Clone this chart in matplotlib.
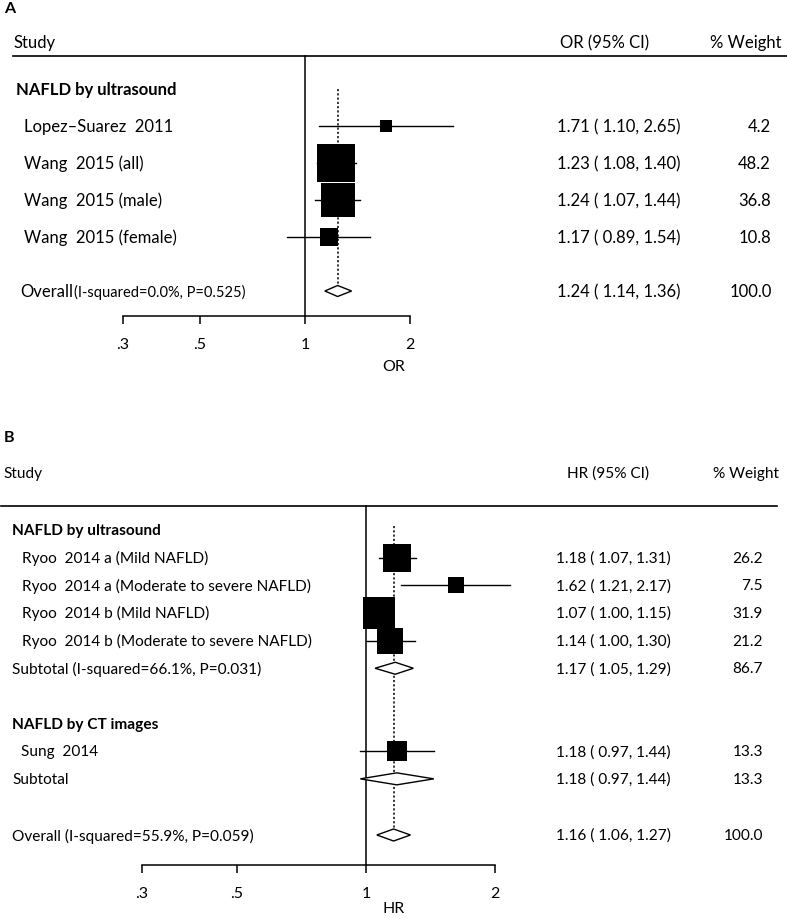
import numpy as np
import matplotlib.pyplot as plt
import matplotlib.transforms as mtransforms
from matplotlib.patches import Polygon

plt.rcParams['font.family'] = ['Lato', 'DejaVu Sans']

# Panel A: NAFLD by ultrasound, OR
a_labels = ["Lopez\u2013Suarez  2011", "Wang  2015 (all)", "Wang  2015 (male)", "Wang  2015 (female)"]
a_est = [1.71, 1.23, 1.24, 1.17]
a_lo = [1.10, 1.08, 1.07, 0.89]
a_hi = [2.65, 1.40, 1.44, 1.54]
a_wt = [4.2, 48.2, 36.8, 10.8]
a_overall = [1.24, 1.14, 1.36]
a_overall_wt = 100.0
a_overall_het = "(I-squared=0.0%, P=0.525)"

# Panel B: HR
b_us_labels = ["Ryoo  2014 a (Mild NAFLD)", "Ryoo  2014 a (Moderate to severe NAFLD)",
               "Ryoo  2014 b (Mild NAFLD)", "Ryoo  2014 b (Moderate to severe NAFLD)"]
b_us_est = [1.18, 1.62, 1.07, 1.14]
b_us_lo = [1.07, 1.21, 1.00, 1.00]
b_us_hi = [1.31, 2.17, 1.15, 1.30]
b_us_wt = [26.2, 7.5, 31.9, 21.2]
b_us_sub = [1.17, 1.05, 1.29]
b_us_sub_wt = 86.7
b_us_het = "(I-squared=66.1%, P=0.031)"

b_ct_labels = ["Sung  2014"]
b_ct_est = [1.18]
b_ct_lo = [0.97]
b_ct_hi = [1.44]
b_ct_wt = [13.3]
b_ct_sub = [1.18, 0.97, 1.44]
b_ct_sub_wt = 13.3

b_overall = [1.16, 1.06, 1.27]
b_overall_wt = 100.0
b_overall_het = "(I-squared=55.9%, P=0.059)"

ticks = [0.3, 0.5, 1, 2]
tick_labels = [".3", ".5", "1", "2"]

W, H = 787, 920
fig = plt.figure(figsize=(W / 100, H / 100), dpi=100)


def make_axes(top_px, axis_px, one_px, px_per_ln, row0_px, row_px):
    ax = fig.add_axes([0, 1 - axis_px / H, 1, (axis_px - top_px) / H])
    ax.set_xscale('log')
    ax.set_xlim(np.exp(-one_px / px_per_ln), np.exp((W - one_px) / px_per_ln))
    ax.set_ylim((axis_px - row0_px) / row_px, (top_px - row0_px) / row_px)
    for s in ['top', 'left', 'right']:
        ax.spines[s].set_visible(False)
    ax.spines['bottom'].set_bounds(ticks[0], ticks[-1])
    ax.spines['bottom'].set_linewidth(1.1)
    ax.set_yticks([])
    ax.set_xticks(ticks)
    ax.set_xticklabels(tick_labels)
    ax.xaxis.set_minor_locator(plt.NullLocator())
    ax.tick_params(axis='x', direction='out', length=6, width=1.1, pad=9, labelsize=11.5)
    ax.patch.set_alpha(0)
    return ax


def row(px, row0_px, row_px):
    return (px - row0_px) / row_px


def square(ax, y, est, lo, hi, wt):
    ax.plot([lo, hi], [y, y], color='black', lw=1.0, clip_on=False, zorder=2)
    ax.scatter([est], [y], marker='s', s=16.3 * wt, color='black', linewidths=0, zorder=3, clip_on=False)


def diamond(ax, y, est, lo, hi, h):
    ax.add_patch(Polygon([[lo, y], [est, y - h], [hi, y], [est, y + h]], closed=True,
                         facecolor='white', edgecolor='black', lw=1.0, zorder=4, clip_on=False))


def ci_text(est, lo, hi):
    return f"{est:.2f} ({lo:5.2f}, {hi:.2f})"


# ---------------- Panel A ----------------
r0, rs = 90, 37.0
ax = make_axes(0, 317, 305, 151.5, r0, rs)
tr = mtransforms.blended_transform_factory(fig.transFigure, ax.transData)
fs = 12

ax.text(4 / W, row(9, r0, rs), "A", transform=tr, fontsize=11.5, fontweight='bold', va='center')
ax.text(14 / W, row(43, r0, rs), "Study", transform=tr, fontsize=fs, va='center')
ax.text(605 / W, row(43, r0, rs), "OR (95% CI)", transform=tr, fontsize=fs, va='center', ha='center')
ax.text(781 / W, row(43, r0, rs), "% Weight", transform=tr, fontsize=fs, va='center', ha='right')
hl = row(57, r0, rs)
ax.plot([13 / W, 1], [hl, hl], transform=tr, color='black', lw=1.2, clip_on=False)
ax.plot([1, 1], [hl, ax.get_ylim()[0]], color='black', lw=1.1, clip_on=False)

ax.text(16 / W, 0, "NAFLD by ultrasound", transform=tr, fontsize=fs, fontweight='bold', va='center')
for i in range(len(a_labels)):
    y = i + 1
    ax.text(24 / W, y, a_labels[i], transform=tr, fontsize=fs, va='center')
    square(ax, y, a_est[i], a_lo[i], a_hi[i], a_wt[i])
    ax.text(557 / W, y, ci_text(a_est[i], a_lo[i], a_hi[i]), transform=tr, fontsize=fs, va='center')
    ax.text(771 / W, y, f"{a_wt[i]:.1f}", transform=tr, fontsize=fs, va='center', ha='right')

yo = row(292, r0, rs)
t = ax.text(20 / W, yo, "Overall", transform=tr, fontsize=fs, va='center')
ax.annotate(a_overall_het, xy=(1, 0.5), xycoords=t, xytext=(1, 0), textcoords='offset points',
            fontsize=10.5, va='center', ha='left')
diamond(ax, yo, a_overall[0], a_overall[1], a_overall[2], 5.5 / rs)
ax.plot([a_overall[0], a_overall[0]], [0, yo], color='black', lw=1.1, ls=(0, (1.4, 1.4)), zorder=1)
ax.text(557 / W, yo, ci_text(*a_overall), transform=tr, fontsize=fs, va='center')
ax.text(772 / W, yo, f"{a_overall_wt:.1f}", transform=tr, fontsize=fs, va='center', ha='right')
ax.set_xlabel("OR", fontsize=11.5, labelpad=6)

# ---------------- Panel B ----------------
r0, rs = 531, 27.65
ax = make_axes(420, 866, 366, 186.0, r0, rs)
tr = mtransforms.blended_transform_factory(fig.transFigure, ax.transData)
fs = 11.1

ax.text(4 / W, row(438, r0, rs), "B", transform=tr, fontsize=11.5, fontweight='bold', va='center')
ax.text(3 / W, row(474, r0, rs), "Study", transform=tr, fontsize=fs, va='center')
ax.text(608 / W, row(474, r0, rs), "HR (95% CI)", transform=tr, fontsize=fs, va='center', ha='center')
ax.text(779 / W, row(474, r0, rs), "% Weight", transform=tr, fontsize=fs, va='center', ha='right')
hl = row(507, r0, rs)
ax.plot([1 / W, 777 / W], [hl, hl], transform=tr, color='black', lw=1.2, clip_on=False)
ax.plot([1, 1], [hl, ax.get_ylim()[0]], color='black', lw=1.1, clip_on=False)

ax.text(12 / W, 0, "NAFLD by ultrasound", transform=tr, fontsize=fs, fontweight='bold', va='center')
for i in range(len(b_us_labels)):
    y = i + 1
    ax.text(22 / W, y, b_us_labels[i], transform=tr, fontsize=fs, va='center')
    square(ax, y, b_us_est[i], b_us_lo[i], b_us_hi[i], b_us_wt[i])
    ax.text(556 / W, y, ci_text(b_us_est[i], b_us_lo[i], b_us_hi[i]), transform=tr, fontsize=fs, va='center')
    ax.text(763 / W, y, f"{b_us_wt[i]:.1f}", transform=tr, fontsize=fs, va='center', ha='right')
y = 5
ax.text(12 / W, y, "Subtotal " + b_us_het, transform=tr, fontsize=fs, va='center')
diamond(ax, y, b_us_sub[0], b_us_sub[1], b_us_sub[2], 6 / rs)
ax.text(556 / W, y, ci_text(*b_us_sub), transform=tr, fontsize=fs, va='center')
ax.text(763 / W, y, f"{b_us_sub_wt:.1f}", transform=tr, fontsize=fs, va='center', ha='right')

ax.text(12 / W, 7, "NAFLD by CT images", transform=tr, fontsize=fs, fontweight='bold', va='center')
for i in range(len(b_ct_labels)):
    y = i + 8
    ax.text(21 / W, y, b_ct_labels[i], transform=tr, fontsize=fs, va='center')
    square(ax, y, b_ct_est[i], b_ct_lo[i], b_ct_hi[i], b_ct_wt[i])
    ax.text(556 / W, y, ci_text(b_ct_est[i], b_ct_lo[i], b_ct_hi[i]), transform=tr, fontsize=fs, va='center')
    ax.text(763 / W, y, f"{b_ct_wt[i]:.1f}", transform=tr, fontsize=fs, va='center', ha='right')
y = 9
ax.text(12 / W, y, "Subtotal", transform=tr, fontsize=fs, va='center')
diamond(ax, y, b_ct_sub[0], b_ct_sub[1], b_ct_sub[2], 6 / rs)
ax.text(556 / W, y, ci_text(*b_ct_sub), transform=tr, fontsize=fs, va='center')
ax.text(763 / W, y, f"{b_ct_sub_wt:.1f}", transform=tr, fontsize=fs, va='center', ha='right')

yo = row(836, r0, rs)
ax.text(12 / W, yo, "Overall " + b_overall_het, transform=tr, fontsize=fs, va='center')
diamond(ax, yo, b_overall[0], b_overall[1], b_overall[2], 6 / rs)
ax.plot([b_overall[0], b_overall[0]], [row(527, r0, rs), yo], color='black', lw=1.1,
        ls=(0, (1.4, 1.4)), zorder=1)
ax.text(556 / W, yo, ci_text(*b_overall), transform=tr, fontsize=fs, va='center')
ax.text(763 / W, yo, f"{b_overall_wt:.1f}", transform=tr, fontsize=fs, va='center', ha='right')
ax.set_xlabel("HR", fontsize=11.5, labelpad=1)

fig.savefig("out.png", dpi=100)
